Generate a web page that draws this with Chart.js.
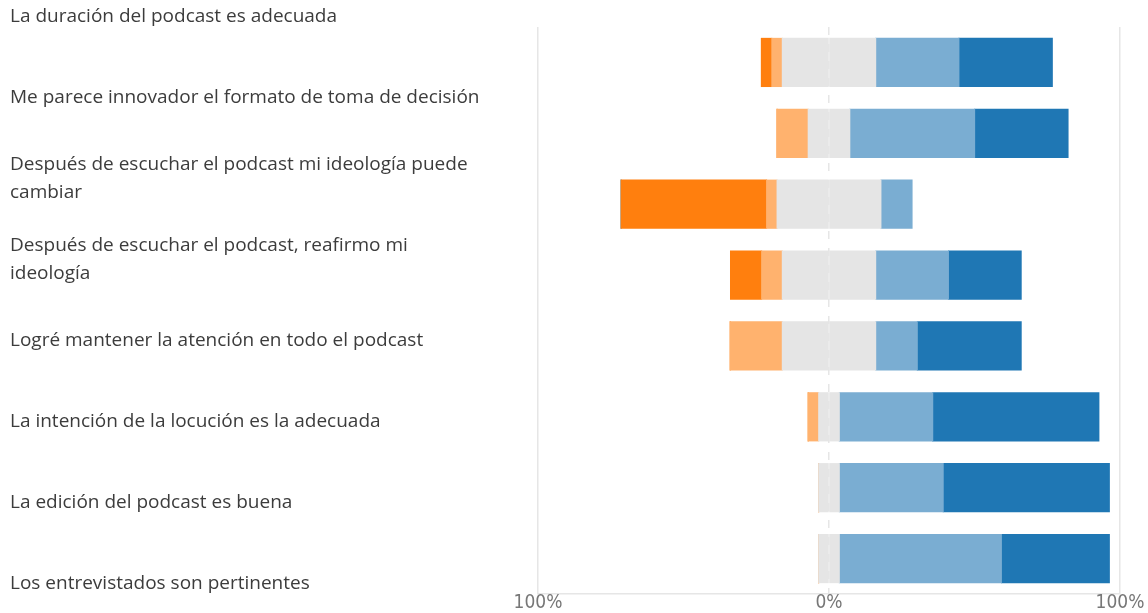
<!DOCTYPE html>
<html>
<head>
<meta charset="utf-8">
<script src="https://cdn.jsdelivr.net/npm/chart.js@4"></script>
<style>
    body { margin: 0; background: #fff; }
    #wrap { width: 1148px; height: 613px; }
</style>
</head>
<body>
<div id="wrap"><canvas id="likertChart"></canvas></div>
<script>
// Survey statements (top to bottom)
const statements = [
    'La duración del podcast es adecuada',
    'Me parece innovador el formato de toma de decisión',
    ['Después de escuchar el podcast mi ideología puede', 'cambiar'],
    ['Después de escuchar el podcast, reafirmo mi', 'ideología'],
    'Logré mantener la atención en todo el podcast',
    'La intención de la locución es la adecuada',
    'La edición del podcast es buena',
    'Los entrevistados son pertinentes'
];

// Answer shares in percent
const stronglyDisagree = [3.6, 0, 50.0, 10.7, 0, 0, 0, 0];
const disagree = [3.6, 10.7, 3.6, 7.1, 17.9, 3.6, 0, 0];
const neutral = [32.1, 14.3, 35.7, 32.1, 32.1, 7.1, 7.1, 7.1];
const agree = [28.6, 42.9, 10.7, 25.0, 14.3, 32.1, 35.7, 55.7];
const stronglyAgree = [32.1, 32.1, 0, 25.0, 35.7, 57.1, 57.1, 37.1];

// X axis ticks
const xTicks = [-100, 0, 100];

const rowKeys = statements.map((s, i) => i);

function makeSet(label, values, color, sign) {
    return {
        label: label,
        data: values.map(v => v * sign),
        backgroundColor: color,
        borderWidth: 0,
        inflateAmount: 0.5,
        yAxisID: 'y'
    };
}

function initializeChart() {
    const ctx = document.getElementById('likertChart');

    new Chart(ctx, {
        type: 'bar',
        data: {
            labels: rowKeys,
            datasets: [
                // left side (neutral half first so it sits next to zero)
                makeSet('Neutral', neutral.map(v => v / 2), '#e5e5e5', -1),
                makeSet('En desacuerdo', disagree, '#ffb26e', -1),
                makeSet('Totalmente en desacuerdo', stronglyDisagree, '#ff7f0e', -1),
                // right side
                makeSet('Neutral ', neutral.map(v => v / 2), '#e5e5e5', 1),
                makeSet('De acuerdo', agree, '#7aadd2', 1),
                makeSet('Totalmente de acuerdo', stronglyAgree, '#1f77b4', 1)
            ]
        },
        options: {
            indexAxis: 'y',
            responsive: true,
            maintainAspectRatio: false,
            animation: false,
            datasets: {
                bar: { categoryPercentage: 1, barPercentage: 0.68 }
            },
            layout: {
                padding: { left: 10, right: 28, top: 27, bottom: 0 }
            },
            plugins: {
                legend: { display: false },
                tooltip: { enabled: false }
            },
            scales: {
                x: {
                    stacked: true,
                    min: -100,
                    max: 100,
                    afterBuildTicks: scale => {
                        scale.ticks = xTicks.map(v => ({ value: v }));
                    },
                    ticks: {
                        padding: 0,
                        color: '#777777',
                        font: {
                            family: "'Liberation Sans Narrow', 'DejaVu Sans Condensed', sans-serif",
                            size: 19,
                            lineHeight: 1.0
                        },
                        callback: v => Math.abs(v) + '%'
                    },
                    grid: {
                        color: '#e6e6e6',
                        lineWidth: 1.5,
                        drawTicks: false
                    },
                    border: {
                        display: true,
                        color: '#e6e6e6',
                        width: 1.5,
                        dash: c => (c.tick && c.tick.value === 0) ? [8, 9] : []
                    }
                },
                y: {
                    stacked: true,
                    display: false
                },
                yl: {
                    type: 'category',
                    position: 'left',
                    labels: statements,
                    offset: false,
                    grid: { display: false },
                    border: { display: false },
                    afterFit: scale => {
                        scale.width = 528;
                    },
                    ticks: {
                        autoSkip: false,
                        crossAlign: 'far',
                        labelOffset: -10,
                        color: '#3c3c3c',
                        font: {
                            family: "'Open Sans', 'Noto Sans', sans-serif",
                            size: 19,
                            lineHeight: 1.47
                        }
                    }
                }
            }
        }
    });
}

document.addEventListener('DOMContentLoaded', initializeChart);
</script>
</body>
</html>
